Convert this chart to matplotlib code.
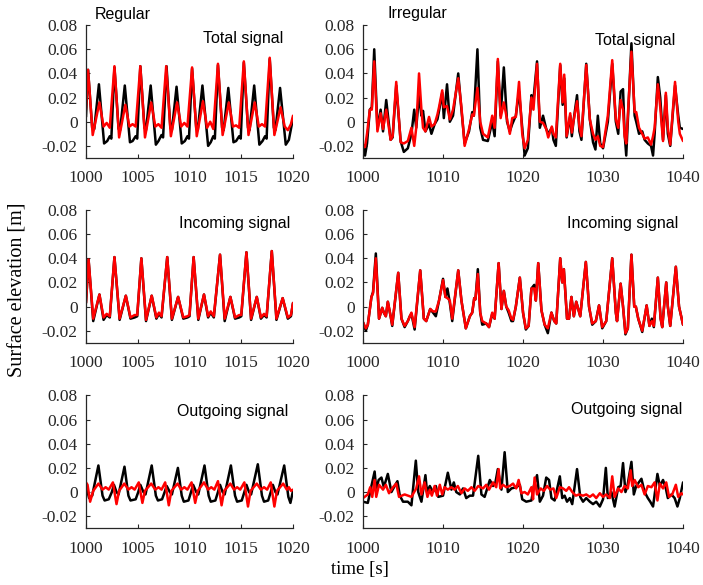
import numpy as np
import matplotlib
matplotlib.use('Agg')
import matplotlib.pyplot as plt

plt.rcParams['font.family'] = 'Liberation Serif'
plt.rcParams['axes.unicode_minus'] = False

# (time [s], elevation [m]), turning points only
# ---- regular wave, total signal
reg_tot_k = [(1000.0, 0.004), (1000.2, 0.043), (1000.6, -0.005), (1000.8, -0.006), (1001.25, 0.031),
             (1001.75, -0.018), (1002.05, -0.016), (1002.3, -0.012), (1002.45, -0.014), (1002.75, 0.045),
             (1003.15, -0.006), (1003.3, -0.007), (1003.75, 0.030), (1004.25, -0.017), (1004.5, -0.016),
             (1004.8, -0.012), (1004.95, -0.014), (1005.25, 0.046), (1005.65, -0.005), (1005.8, -0.007),
             (1006.25, 0.030), (1006.75, -0.019), (1007.0, -0.016), (1007.3, -0.011), (1007.45, -0.013),
             (1007.78, 0.046), (1008.15, -0.005), (1008.3, -0.007), (1008.75, 0.029), (1009.25, -0.018),
             (1009.55, -0.016), (1009.8, -0.012), (1009.95, -0.014), (1010.25, 0.044), (1010.65, -0.005),
             (1010.8, -0.007), (1011.25, 0.030), (1011.8, -0.020), (1012.05, -0.017), (1012.3, -0.012),
             (1012.45, -0.014), (1012.75, 0.047), (1013.15, -0.005), (1013.3, -0.007), (1013.75, 0.028),
             (1014.25, -0.017), (1014.5, -0.016), (1014.8, -0.012), (1014.95, -0.014), (1015.25, 0.049),
             (1015.65, -0.005), (1015.8, -0.007), (1016.25, 0.030), (1016.75, -0.019), (1017.05, -0.016),
             (1017.3, -0.012), (1017.45, -0.014), (1017.75, 0.052), (1018.15, -0.005), (1018.3, -0.007),
             (1018.75, 0.028), (1019.3, -0.019), (1019.6, -0.015), (1020.0, 0.003)]
reg_tot_r = [(1000.0, 0.010), (1000.2, 0.043), (1000.65, -0.011), (1001.3, 0.016), (1001.7, -0.004),
             (1002.0, -0.001), (1002.3, -0.005), (1002.75, 0.046), (1003.2, -0.013), (1003.8, 0.014),
             (1004.2, -0.004), (1004.5, -0.002), (1004.8, -0.004), (1005.25, 0.046), (1005.7, -0.013),
             (1006.3, 0.016), (1006.7, -0.004), (1007.0, -0.002), (1007.3, -0.005), (1007.75, 0.046),
             (1008.2, -0.012), (1008.8, 0.016), (1009.2, -0.004), (1009.5, -0.001), (1009.8, -0.004),
             (1010.25, 0.045), (1010.7, -0.012), (1011.3, 0.017), (1011.7, -0.005), (1012.0, 0.000),
             (1012.3, -0.006), (1012.75, 0.048), (1013.2, -0.011), (1013.8, 0.016), (1014.2, -0.004),
             (1014.5, -0.003), (1014.8, -0.005), (1015.25, 0.050), (1015.7, -0.011), (1016.3, 0.016),
             (1016.7, -0.004), (1017.0, -0.002), (1017.3, -0.004), (1017.75, 0.053), (1018.2, -0.011),
             (1018.8, 0.012), (1019.2, -0.004), (1019.5, -0.007), (1019.8, -0.002), (1020.0, 0.005)]

# ---- regular wave, incoming signal
reg_inc_k = [(1000.0, 0.003), (1000.25, 0.039), (1000.7, -0.012), (1001.3, 0.010), (1001.7, -0.011),
             (1002.0, -0.007), (1002.3, -0.009), (1002.75, 0.041), (1003.25, -0.011), (1003.85, 0.009),
             (1004.3, -0.010), (1004.7, -0.009), (1004.95, -0.008), (1005.35, 0.040), (1005.8, -0.012),
             (1006.35, 0.009), (1006.8, -0.010), (1007.05, -0.006), (1007.3, -0.009), (1007.85, 0.041),
             (1008.3, -0.011), (1008.9, 0.008), (1009.4, -0.010), (1009.8, -0.009), (1010.0, -0.008),
             (1010.4, 0.041), (1010.85, -0.011), (1011.4, 0.010), (1011.8, -0.009), (1012.05, -0.005),
             (1012.35, -0.009), (1012.95, 0.043), (1013.4, -0.012), (1013.95, 0.008), (1014.4, -0.010),
             (1014.8, -0.009), (1015.0, -0.008), (1015.5, 0.045), (1015.95, -0.011), (1016.5, 0.008),
             (1016.9, -0.010), (1017.2, -0.007), (1017.45, -0.009), (1017.95, 0.046), (1018.4, -0.011),
             (1019.0, 0.007), (1019.5, -0.010), (1019.8, -0.008), (1020.0, 0.003)]
reg_inc_r = [(1000.0, 0.003), (1000.25, 0.039), (1000.7, -0.010), (1001.3, 0.010), (1001.7, -0.009),
             (1002.0, -0.006), (1002.3, -0.008), (1002.75, 0.041), (1003.25, -0.010), (1003.85, 0.009),
             (1004.3, -0.009), (1004.7, -0.007), (1004.95, -0.007), (1005.35, 0.040), (1005.8, -0.011),
             (1006.35, 0.009), (1006.8, -0.009), (1007.05, -0.005), (1007.3, -0.008), (1007.85, 0.041),
             (1008.3, -0.010), (1008.9, 0.008), (1009.4, -0.009), (1009.8, -0.008), (1010.0, -0.007),
             (1010.4, 0.041), (1010.85, -0.010), (1011.4, 0.010), (1011.8, -0.008), (1012.05, -0.004),
             (1012.35, -0.008), (1012.95, 0.043), (1013.4, -0.010), (1013.95, 0.008), (1014.4, -0.009),
             (1014.8, -0.007), (1015.0, -0.007), (1015.5, 0.045), (1015.95, -0.010), (1016.5, 0.008),
             (1016.9, -0.009), (1017.2, -0.006), (1017.45, -0.008), (1017.95, 0.046), (1018.4, -0.010),
             (1019.0, 0.007), (1019.5, -0.009), (1019.8, -0.007), (1020.0, 0.003)]

# ---- regular wave, outgoing signal
reg_out_k = [(1000.0, 0.006), (1000.3, -0.005), (1000.6, -0.003), (1001.2, 0.022), (1001.6, -0.003),
             (1001.8, -0.007), (1002.2, -0.006), (1002.5, 0.000), (1002.7, 0.006), (1002.95, 0.000),
             (1003.15, -0.002), (1003.72, 0.021), (1004.1, -0.003), (1004.3, -0.007), (1004.8, -0.006),
             (1005.05, 0.000), (1005.25, 0.006), (1005.55, 0.000), (1005.75, -0.002), (1006.35, 0.022),
             (1006.75, -0.003), (1006.95, -0.007), (1007.35, -0.006), (1007.6, 0.000), (1007.8, 0.005),
             (1008.1, 0.000), (1008.3, -0.002), (1008.88, 0.020), (1009.25, -0.003), (1009.45, -0.008),
             (1009.9, -0.007), (1010.15, 0.000), (1010.35, 0.006), (1010.65, 0.000), (1010.85, -0.002),
             (1011.45, 0.022), (1011.85, -0.003), (1012.05, -0.008), (1012.5, -0.007), (1012.75, 0.000),
             (1012.95, 0.006), (1013.2, 0.000), (1013.4, -0.002), (1014.0, 0.022), (1014.4, -0.003),
             (1014.6, -0.008), (1015.05, -0.007), (1015.3, 0.000), (1015.5, 0.006), (1015.75, 0.000),
             (1015.95, -0.002), (1016.6, 0.023), (1017.0, -0.003), (1017.2, -0.008), (1017.6, -0.007),
             (1017.85, 0.000), (1018.05, 0.006), (1018.3, 0.000), (1018.5, -0.002), (1019.15, 0.022),
             (1019.55, -0.004), (1019.75, -0.009), (1020.0, 0.001)]
reg_out_r = [(1000.0, 0.008), (1000.15, 0.006), (1000.4, -0.008), (1000.7, 0.001), (1001.2, 0.007),
             (1001.6, 0.002), (1001.9, 0.004), (1002.2, 0.002), (1002.6, 0.008), (1002.95, -0.010),
             (1003.2, 0.001), (1003.7, 0.007), (1004.1, 0.002), (1004.4, 0.004), (1004.7, 0.002),
             (1005.1, 0.008), (1005.45, -0.009), (1005.7, 0.001), (1006.3, 0.007), (1006.7, 0.002),
             (1007.0, 0.004), (1007.3, 0.002), (1007.65, 0.008), (1008.0, -0.011), (1008.25, 0.001),
             (1008.85, 0.007), (1009.2, 0.002), (1009.5, 0.004), (1009.8, 0.002), (1010.2, 0.008),
             (1010.55, -0.009), (1010.8, 0.001), (1011.4, 0.008), (1011.8, 0.002), (1012.1, 0.004),
             (1012.4, 0.002), (1012.75, 0.009), (1013.1, -0.011), (1013.35, 0.001), (1013.95, 0.007),
             (1014.3, 0.002), (1014.6, 0.004), (1014.9, 0.002), (1015.3, 0.008), (1015.65, -0.012),
             (1015.9, 0.001), (1016.5, 0.007), (1016.9, 0.002), (1017.2, 0.004), (1017.5, 0.002),
             (1017.85, 0.008), (1018.2, -0.012), (1018.45, 0.001), (1019.05, 0.007), (1019.4, 0.002),
             (1019.6, 0.004), (1019.8, 0.001), (1020.0, 0.002)]

# ---- irregular wave, total signal: (t, black, red)
irr_tot = [(1000.0, -0.020, -0.019), (1000.25, -0.028, -0.021), (1000.5, -0.018, -0.010), (1000.85, 0.010, 0.010),
           (1001.1, 0.012, 0.010), (1001.4, 0.060, 0.050), (1001.8, -0.006, -0.008), (1002.2, 0.010, 0.007),
           (1002.5, -0.008, -0.006), (1002.9, 0.018, 0.010), (1003.45, -0.015, -0.015), (1003.7, -0.013, -0.012),
           (1004.15, 0.030, 0.033), (1004.7, -0.016, -0.017), (1005.1, -0.025, -0.018), (1005.6, -0.022, -0.016),
           (1006.05, -0.010, -0.005), (1006.4, 0.010, -0.020), (1006.65, -0.005, -0.005), (1007.0, 0.022, 0.040),
           (1007.3, 0.005, 0.010), (1007.5, 0.009, -0.005), (1007.8, -0.008, -0.008), (1008.25, -0.002, 0.004),
           (1008.55, -0.010, -0.004), (1008.95, -0.002, -0.002), (1009.3, 0.002, 0.006), (1009.5, 0.009, 0.012),
           (1009.9, 0.024, 0.026), (1010.1, 0.003, 0.012), (1010.5, 0.031, 0.013), (1010.85, 0.000, 0.002),
           (1011.25, 0.005, 0.010), (1011.9, 0.040, 0.036), (1012.3, 0.010, 0.012), (1012.7, -0.018, -0.020),
           (1013.25, -0.008, -0.006), (1013.65, 0.008, 0.006), (1013.85, 0.005, 0.005), (1014.3, 0.060, 0.028),
           (1014.65, -0.005, 0.000), (1015.0, -0.015, -0.010), (1015.6, -0.016, -0.013), (1016.15, 0.000, 0.005),
           (1016.45, -0.012, -0.005), (1016.85, 0.050, 0.052), (1017.2, 0.005, 0.003), (1017.6, 0.045, 0.016),
           (1018.0, 0.000, 0.002), (1018.35, -0.008, -0.010), (1018.65, -0.002, 0.003), (1019.1, 0.005, 0.004),
           (1019.5, 0.025, 0.033), (1019.9, -0.005, -0.010), (1020.2, -0.028, -0.022), (1020.6, -0.022, -0.015),
           (1021.05, 0.022, 0.020), (1021.3, 0.018, 0.010), (1021.75, 0.050, 0.048), (1022.1, -0.005, 0.000),
           (1022.5, 0.005, -0.001), (1022.9, -0.006, -0.006), (1023.15, -0.010, -0.013), (1023.6, -0.005, -0.004),
           (1023.8, -0.015, -0.010), (1024.1, -0.020, -0.013), (1024.65, 0.047, 0.048), (1024.95, 0.014, 0.016),
           (1025.15, 0.036, 0.039), (1025.45, -0.013, -0.012), (1025.9, 0.005, 0.007), (1026.1, -0.012, -0.009),
           (1026.3, 0.000, 0.000), (1026.75, 0.022, 0.017), (1027.05, -0.008, -0.004), (1027.3, -0.015, -0.012),
           (1027.9, 0.048, 0.047), (1028.35, 0.002, 0.002), (1028.75, -0.017, -0.010), (1029.05, -0.023, -0.015),
           (1029.35, 0.005, -0.012), (1029.65, -0.018, -0.020), (1030.0, -0.022, -0.021), (1030.6, 0.000, 0.005),
           (1031.15, 0.048, 0.051), (1031.6, 0.000, 0.002), (1031.9, -0.010, -0.005), (1032.2, 0.025, 0.018),
           (1032.5, 0.027, 0.010), (1032.7, -0.010, -0.012), (1032.9, -0.028, -0.018), (1033.55, 0.065, 0.058),
           (1033.95, 0.005, 0.008), (1034.15, 0.000, 0.008), (1034.5, -0.010, -0.005), (1034.9, -0.008, -0.010),
           (1035.2, -0.015, -0.014), (1035.6, -0.018, -0.013), (1036.0, -0.020, -0.019), (1036.25, -0.028, -0.012),
           (1036.45, -0.010, -0.005), (1036.85, 0.037, 0.031), (1037.15, 0.020, 0.012), (1037.5, -0.015, -0.016),
           (1037.85, 0.022, 0.024), (1038.1, -0.010, -0.005), (1038.4, -0.020, -0.019), (1039.0, 0.030, 0.033),
           (1039.4, 0.005, 0.000), (1039.6, -0.005, -0.010), (1040.0, -0.006, -0.016)]

# ---- irregular wave, incoming signal: (t, black, red)
irr_inc = [(1000.0, -0.013, -0.013), (1000.35, -0.020, -0.018), (1000.6, -0.015, -0.015), (1001.05, 0.008, 0.008),
           (1001.25, 0.012, 0.011), (1001.6, 0.044, 0.040), (1002.0, -0.010, -0.010), (1002.4, -0.001, -0.001),
           (1002.6, -0.005, -0.005), (1002.85, -0.008, -0.008), (1003.1, 0.004, 0.004), (1003.45, -0.008, -0.008),
           (1003.65, -0.016, -0.015), (1004.4, 0.028, 0.028), (1004.8, -0.010, -0.010), (1005.2, -0.017, -0.016),
           (1005.6, -0.012, -0.012), (1005.85, -0.008, -0.008), (1006.05, -0.006, -0.005), (1006.45, -0.019, -0.017),
           (1007.15, 0.030, 0.030), (1007.6, -0.010, -0.010), (1007.9, -0.012, -0.012), (1008.4, -0.002, -0.002),
           (1008.75, -0.005, -0.004), (1009.1, -0.008, -0.004), (1009.5, 0.005, 0.005), (1010.0, 0.023, 0.022),
           (1010.3, 0.008, 0.008), (1010.55, 0.015, 0.007), (1010.85, 0.003, 0.005), (1011.15, -0.012, -0.010),
           (1011.9, 0.030, 0.030), (1012.3, 0.005, 0.005), (1012.85, -0.018, -0.018), (1013.35, -0.008, -0.008),
           (1013.65, -0.005, -0.005), (1013.9, 0.007, 0.007), (1014.05, 0.006, 0.006), (1014.35, 0.031, 0.027),
           (1014.65, -0.005, -0.005), (1014.9, -0.015, -0.012), (1015.4, -0.014, -0.014), (1015.75, -0.017, -0.017),
           (1016.15, -0.006, -0.005), (1016.45, -0.010, -0.010), (1016.95, 0.036, 0.036), (1017.3, -0.002, -0.002),
           (1017.6, 0.013, 0.013), (1017.9, 0.000, 0.000), (1018.2, -0.005, -0.003), (1018.55, -0.012, -0.010),
           (1018.75, -0.012, -0.011), (1019.1, 0.000, 0.000), (1019.6, 0.024, 0.024), (1020.0, -0.005, -0.005),
           (1020.35, -0.019, -0.018), (1020.7, -0.016, -0.016), (1021.05, 0.015, 0.015), (1021.4, 0.018, 0.015),
           (1021.6, 0.005, 0.005), (1021.9, 0.036, 0.036), (1022.3, -0.003, -0.003), (1022.7, -0.015, -0.015),
           (1023.1, -0.022, -0.018), (1023.55, -0.005, -0.005), (1023.9, -0.012, -0.012), (1024.15, -0.014, -0.014),
           (1024.65, 0.040, 0.040), (1024.9, 0.020, 0.020), (1025.1, 0.031, 0.031), (1025.5, -0.010, -0.010),
           (1025.75, -0.010, -0.010), (1026.05, 0.008, 0.008), (1026.35, -0.008, -0.008), (1026.65, 0.004, 0.004),
           (1026.9, -0.002, -0.002), (1027.15, -0.008, -0.008), (1027.85, 0.037, 0.037), (1028.25, 0.000, 0.000),
           (1028.65, -0.015, -0.014), (1029.1, -0.012, -0.012), (1029.5, 0.001, 0.001), (1029.9, -0.018, -0.017),
           (1030.4, -0.012, -0.012), (1031.15, 0.040, 0.040), (1031.6, -0.005, -0.005), (1031.75, -0.012, -0.012),
           (1032.2, 0.019, 0.019), (1032.5, 0.000, 0.000), (1032.8, -0.023, -0.022), (1033.1, -0.018, -0.018),
           (1033.55, 0.043, 0.043), (1033.9, 0.000, 0.000), (1034.1, 0.000, 0.000), (1034.4, -0.010, -0.010),
           (1034.9, -0.021, -0.020), (1035.45, 0.001, 0.001), (1035.8, -0.016, -0.016), (1036.1, -0.010, -0.012),
           (1036.35, -0.017, -0.016), (1036.85, 0.024, 0.024), (1037.2, -0.010, -0.010), (1037.4, -0.017, -0.017),
           (1037.9, 0.020, 0.020), (1038.1, 0.000, 0.000), (1038.4, -0.016, -0.016), (1039.1, 0.033, 0.033),
           (1039.5, 0.000, 0.000), (1040.0, -0.015, -0.015)]

# ---- irregular wave, outgoing signal
irr_out_k = [(1000.0, -0.008), (1000.6, -0.009), (1001.05, 0.005), (1001.45, 0.017), (1001.65, 0.002),
             (1001.95, 0.010), (1002.3, 0.012), (1002.6, 0.004), (1003.1, 0.015), (1003.55, 0.000),
             (1003.95, 0.005), (1004.3, 0.009), (1004.6, -0.003), (1005.0, -0.008), (1005.6, -0.008),
             (1006.05, -0.011), (1006.6, 0.026), (1006.9, 0.000), (1007.3, -0.008), (1007.8, 0.014),
             (1008.0, 0.000), (1008.35, 0.005), (1008.75, 0.000), (1009.1, 0.005), (1009.4, -0.004),
             (1010.0, -0.003), (1010.6, 0.016), (1011.05, 0.002), (1011.35, 0.008), (1011.65, 0.000),
             (1012.1, -0.002), (1012.5, 0.003), (1012.9, -0.005), (1013.35, -0.003), (1013.75, -0.003),
             (1014.4, 0.030), (1014.8, -0.002), (1015.2, -0.004), (1015.85, 0.010), (1016.25, 0.005),
             (1016.55, 0.008), (1016.85, 0.019), (1017.3, 0.002), (1017.7, 0.033), (1018.1, 0.000),
             (1018.55, 0.003), (1019.15, 0.004), (1019.6, 0.006), (1019.9, -0.006), (1020.4, -0.008),
             (1021.05, -0.007), (1021.35, 0.005), (1021.75, 0.014), (1022.1, -0.008), (1022.5, -0.003),
             (1022.9, 0.012), (1023.25, 0.010), (1023.55, -0.005), (1023.95, -0.007), (1024.6, 0.013),
             (1024.9, -0.005), (1025.2, -0.003), (1025.5, -0.008), (1025.85, -0.005), (1026.15, -0.010),
             (1026.75, 0.019), (1027.15, -0.004), (1027.5, -0.008), (1027.9, -0.005), (1028.35, -0.008),
             (1028.75, -0.010), (1029.15, -0.008), (1029.6, -0.012), (1030.0, -0.006), (1030.35, 0.020),
             (1030.6, -0.005), (1031.05, 0.000), (1031.45, -0.012), (1031.9, 0.004), (1032.2, 0.005),
             (1032.5, 0.024), (1032.8, 0.000), (1033.05, 0.005), (1033.55, 0.025), (1033.85, -0.002),
             (1034.15, 0.005), (1034.8, 0.011), (1035.2, 0.000), (1035.6, -0.005), (1035.9, -0.008),
             (1036.25, -0.012), (1036.8, 0.015), (1037.1, 0.005), (1037.5, 0.010), (1037.85, 0.003),
             (1038.1, -0.005), (1038.55, -0.002), (1038.95, -0.005), (1039.3, -0.012), (1039.6, -0.005),
             (1040.0, 0.008)]
irr_out_r = [(1000.0, -0.005), (1000.6, -0.002), (1000.9, 0.004), (1001.15, -0.004), (1001.45, 0.010),
             (1001.65, -0.004), (1002.0, 0.006), (1002.5, 0.002), (1002.85, 0.006), (1003.25, -0.001),
             (1003.75, 0.004), (1004.15, 0.007), (1004.5, -0.004), (1005.2, -0.002), (1006.05, -0.004),
             (1006.65, 0.003), (1007.0, 0.013), (1007.3, -0.002), (1007.7, 0.008), (1008.05, -0.004),
             (1008.35, 0.002), (1008.6, -0.003), (1008.95, 0.005), (1009.25, -0.003), (1009.6, 0.006),
             (1009.9, -0.002), (1010.2, 0.004), (1010.6, 0.002), (1011.05, 0.004), (1011.45, 0.002),
             (1011.85, 0.005), (1012.3, -0.001), (1012.7, 0.003), (1013.1, 0.001), (1013.55, 0.004),
             (1013.95, 0.001), (1014.4, 0.005), (1015.0, 0.003), (1015.4, 0.006), (1015.75, 0.002),
             (1016.25, 0.008), (1016.65, 0.004), (1016.95, 0.019), (1017.15, 0.003), (1017.5, 0.006),
             (1017.9, 0.004), (1018.35, 0.005), (1018.75, 0.007), (1019.15, 0.003), (1019.45, 0.010),
             (1019.8, -0.001), (1020.2, 0.000), (1020.6, -0.002), (1021.05, 0.004), (1021.25, -0.006),
             (1021.45, 0.012), (1021.75, -0.002), (1022.2, 0.003), (1022.6, 0.001), (1023.0, 0.005),
             (1023.4, 0.002), (1023.8, 0.003), (1024.15, -0.005), (1024.6, 0.004), (1025.0, 0.003),
             (1025.4, 0.001), (1025.75, 0.004), (1026.15, 0.000), (1026.6, -0.003), (1027.0, -0.002),
             (1027.5, -0.003), (1027.9, -0.002), (1028.35, -0.004), (1028.75, -0.002), (1029.15, -0.005),
             (1029.6, -0.001), (1030.0, -0.004), (1030.4, -0.002), (1030.85, -0.005), (1031.15, 0.013),
             (1031.45, -0.004), (1031.9, 0.003), (1032.3, 0.000), (1032.7, 0.005), (1033.1, 0.003),
             (1033.45, 0.018), (1033.65, 0.005), (1033.95, 0.010), (1034.4, 0.004), (1034.8, 0.006),
             (1035.2, -0.002), (1035.6, 0.005), (1036.05, 0.004), (1036.45, 0.008), (1036.8, -0.007),
             (1037.1, 0.007), (1037.5, 0.003), (1037.9, 0.008), (1038.25, -0.004), (1038.65, -0.002),
             (1039.1, 0.006), (1039.4, -0.004), (1039.8, -0.001), (1040.0, -0.002)]

yticks = [-0.02, 0, 0.02, 0.04, 0.06, 0.08]
ytick_labels = ['-0.02', '0', '0.02', '0.04', '0.06', '0.08']
xticks_reg = [1000, 1005, 1010, 1015, 1020]
xticks_irr = [1000, 1010, 1020, 1030, 1040]
panel_titles = ['Total signal', 'Incoming signal', 'Outgoing signal']

fig = plt.figure(figsize=(7.03, 5.85), dpi=100)

row_bottoms = [0.730, 0.414, 0.097]
h = 0.227
left_pos = (0.1223, 0.2945)
right_pos = (0.5164, 0.4552)
line_kw = dict(lw=1.8, solid_joinstyle='round', solid_capstyle='round')


def style_axes(ax, xticks, xlim):
    ax.set_xlim(*xlim)
    ax.set_ylim(-0.03, 0.08)
    ax.set_xticks(xticks)
    ax.set_xticklabels([str(x) for x in xticks])
    ax.set_yticks(yticks)
    ax.set_yticklabels(ytick_labels)
    for s in ['top', 'right']:
        ax.spines[s].set_visible(False)
    for s in ['left', 'bottom']:
        ax.spines[s].set_linewidth(0.9)
        ax.spines[s].set_color('#262626')
    ax.tick_params(direction='in', length=3, width=0.8, labelsize=12.5, colors='#262626')
    ax.tick_params(axis='x', pad=9)
    ax.tick_params(axis='y', pad=6)
    ax.patch.set_alpha(0)


reg_pairs = [(reg_tot_k, reg_tot_r), (reg_inc_k, reg_inc_r), (reg_out_k, reg_out_r)]
for i, (bk, rd) in enumerate(reg_pairs):
    ax = fig.add_axes([left_pos[0], row_bottoms[i], left_pos[1], h])
    bk = np.array(bk)
    rd = np.array(rd)
    ax.plot(bk[:, 0], bk[:, 1], color='k', **line_kw)
    ax.plot(rd[:, 0], rd[:, 1], color='r', **line_kw)
    style_axes(ax, xticks_reg, (1000, 1020))
    tx = [0.952, 0.985, 0.976][i]
    ty = [0.90, 0.90, 0.88][i]
    ax.text(tx, ty, panel_titles[i], transform=ax.transAxes, ha='right', va='center',
            fontsize=11.5, family='Liberation Sans')
    if i == 0:
        ax.text(0.043, 1.083, 'Regular', transform=ax.transAxes, ha='left', va='center',
                fontsize=11.5, family='Liberation Sans')

irr_tot = np.array(irr_tot)
irr_inc = np.array(irr_inc)
irr_sets = [(irr_tot[:, [0, 1]], irr_tot[:, [0, 2]]),
            (irr_inc[:, [0, 1]], irr_inc[:, [0, 2]]),
            (np.array(irr_out_k), np.array(irr_out_r))]
for i, (bk, rd) in enumerate(irr_sets):
    ax = fig.add_axes([right_pos[0], row_bottoms[i], right_pos[1], h])
    ax.plot(bk[:, 0], bk[:, 1], color='k', **line_kw)
    ax.plot(rd[:, 0], rd[:, 1], color='r', **line_kw)
    style_axes(ax, xticks_irr, (1000, 1040))
    tx = [0.975, 0.984, 0.997][i]
    ty = [0.887, 0.90, 0.895][i]
    ax.text(tx, ty, panel_titles[i], transform=ax.transAxes, ha='right', va='center',
            fontsize=11.5, family='Liberation Sans')
    if i == 0:
        ax.text(0.075, 1.09, 'Irregular', transform=ax.transAxes, ha='left', va='center',
                fontsize=11.5, family='Liberation Sans')

fig.text(0.026, 0.505, 'Surface elevation [m]', rotation=90, ha='center', va='center', fontsize=14.5)
fig.text(0.512, 0.026, 'time [s]', ha='center', va='center', fontsize=13.5)

fig.savefig('out.png', dpi=100)
